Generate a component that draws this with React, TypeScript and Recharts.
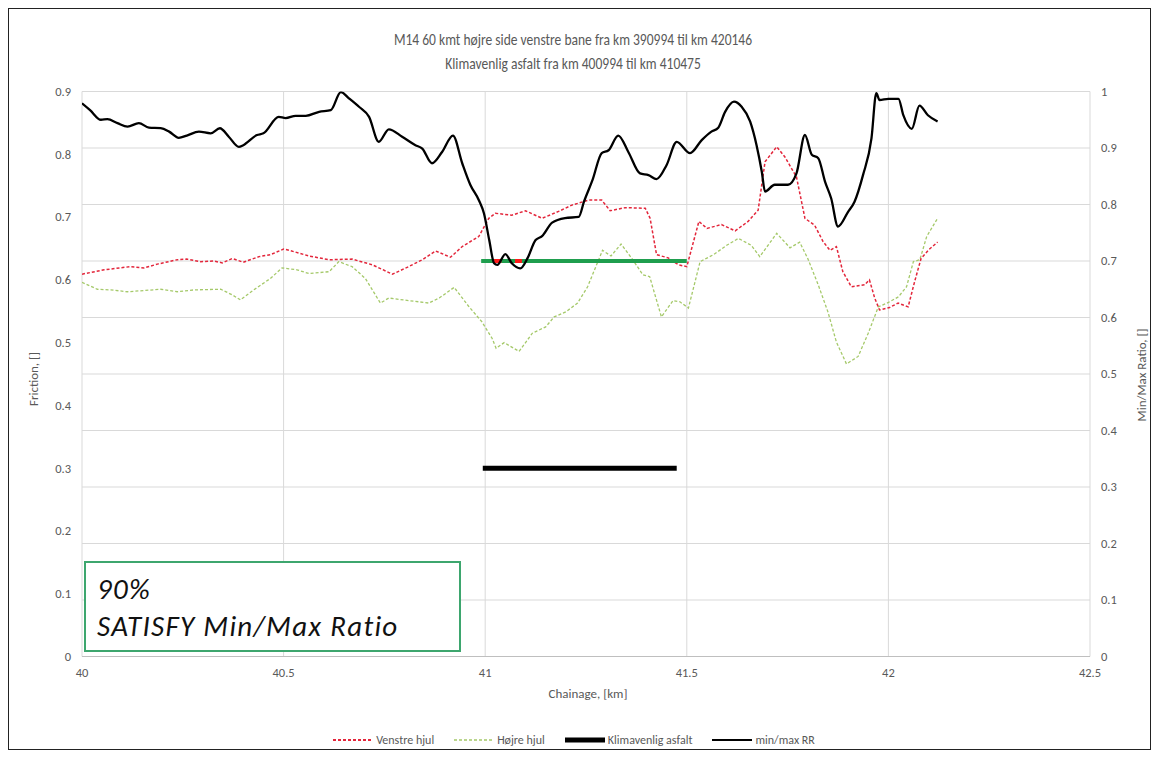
import React from 'react';
import { LineChart, Line, XAxis, YAxis, CartesianGrid } from 'recharts';

const FONT = "Carlito, 'Liberation Sans Narrow', 'Open Sans', sans-serif";
const TEXT_GRAY = '#595959';

const X_TICKS = [40, 40.5, 41, 41.5, 42, 42.5];
const FRICTION_TICKS = [0, 0.1, 0.2, 0.3, 0.4, 0.5, 0.6, 0.7, 0.8, 0.9];
const RATIO_TICKS = [0, 0.1, 0.2, 0.3, 0.4, 0.5, 0.6, 0.7, 0.8, 0.9, 1];

// Venstre hjul (left wheel friction)
const venstreKm = [
  40.0, 40.055, 40.12, 40.154, 40.187, 40.236, 40.26, 40.294, 40.327, 40.348, 40.373, 40.4,
  40.439, 40.467, 40.5, 40.514, 40.563, 40.613, 40.67, 40.72, 40.77, 40.81, 40.844, 40.877,
  40.914, 40.943, 40.984, 41.009, 41.025, 41.066, 41.1, 41.141, 41.182, 41.215, 41.256, 41.289,
  41.31, 41.347, 41.397, 41.409, 41.425, 41.454, 41.479, 41.5, 41.53, 41.55, 41.586, 41.62,
  41.652, 41.677, 41.694, 41.723, 41.743, 41.772, 41.793, 41.817, 41.838, 41.855, 41.871, 41.887,
  41.908, 41.941, 41.953, 41.966, 41.978, 42.003, 42.024, 42.049, 42.065, 42.081, 42.1, 42.122,
];
const venstreFriction = [
  0.609, 0.616, 0.621, 0.619, 0.625, 0.632, 0.633, 0.629, 0.63, 0.627, 0.634, 0.628,
  0.637, 0.64, 0.649, 0.647, 0.638, 0.632, 0.633, 0.624, 0.609, 0.621, 0.632, 0.646,
  0.636, 0.653, 0.669, 0.698, 0.706, 0.703, 0.71, 0.698, 0.709, 0.719, 0.727, 0.727,
  0.71, 0.715, 0.714, 0.698, 0.64, 0.635, 0.624, 0.621, 0.693, 0.682, 0.688, 0.678,
  0.693, 0.711, 0.788, 0.812, 0.796, 0.764, 0.698, 0.687, 0.661, 0.647, 0.653, 0.613,
  0.589, 0.592, 0.6, 0.571, 0.552, 0.556, 0.563, 0.557, 0.597, 0.634, 0.648, 0.66,
];

// Højre hjul (right wheel friction)
const hojreKm = [
  40.0, 40.038, 40.071, 40.113, 40.154, 40.195, 40.236, 40.278, 40.344, 40.373, 40.393, 40.426,
  40.467, 40.496, 40.533, 40.563, 40.613, 40.637, 40.67, 40.703, 40.74, 40.761, 40.81, 40.86,
  40.886, 40.923, 40.96, 40.992, 41.017, 41.027, 41.047, 41.084, 41.117, 41.15, 41.171, 41.2,
  41.229, 41.254, 41.291, 41.312, 41.337, 41.366, 41.391, 41.408, 41.437, 41.466, 41.483, 41.504,
  41.533, 41.566, 41.599, 41.628, 41.66, 41.681, 41.723, 41.756, 41.78, 41.8, 41.826, 41.85,
  41.871, 41.896, 41.925, 41.95, 41.975, 42.0, 42.025, 42.045, 42.062, 42.078, 42.095, 42.122,
];
const hojreFriction = [
  0.596, 0.585, 0.584, 0.581, 0.583, 0.585, 0.581, 0.584, 0.585, 0.576, 0.568, 0.584,
  0.602, 0.619, 0.616, 0.61, 0.613, 0.629, 0.621, 0.602, 0.563, 0.571, 0.567, 0.563,
  0.571, 0.588, 0.557, 0.533, 0.507, 0.491, 0.5, 0.486, 0.515, 0.525, 0.541, 0.549,
  0.563, 0.589, 0.647, 0.638, 0.657, 0.632, 0.608, 0.605, 0.541, 0.567, 0.565, 0.555,
  0.629, 0.64, 0.655, 0.666, 0.655, 0.637, 0.674, 0.651, 0.66, 0.634, 0.592, 0.549,
  0.501, 0.466, 0.478, 0.515, 0.557, 0.564, 0.573, 0.589, 0.629, 0.632, 0.669, 0.698,
];

// min/max RR (right axis)
const ratioKm = [
  40.0, 40.02, 40.047, 40.063, 40.088, 40.113, 40.141, 40.166, 40.195, 40.216, 40.24, 40.26,
  40.29, 40.319, 40.342, 40.364, 40.389, 40.4, 40.434, 40.45, 40.488, 40.505, 40.53, 40.555,
  40.588, 40.617, 40.642, 40.662, 40.687, 40.712, 40.736, 40.761, 40.794, 40.827, 40.844, 40.868,
  40.893, 40.92, 40.943, 40.963, 40.984, 40.997, 41.01, 41.022, 41.03, 41.05, 41.066, 41.087,
  41.105, 41.125, 41.141, 41.166, 41.198, 41.232, 41.245, 41.266, 41.289, 41.306, 41.33, 41.355,
  41.384, 41.405, 41.425, 41.45, 41.475, 41.508, 41.537, 41.561, 41.578, 41.595, 41.617, 41.636,
  41.657, 41.673, 41.686, 41.694, 41.718, 41.751, 41.772, 41.793, 41.81, 41.826, 41.843, 41.858,
  41.875, 41.9, 41.916, 41.937, 41.958, 41.97, 41.978, 42.0, 42.025, 42.037, 42.058, 42.077,
  42.098, 42.122,
];
const ratioValues = [
  0.979, 0.967, 0.95, 0.951, 0.944, 0.938, 0.944, 0.936, 0.935, 0.929, 0.918, 0.922,
  0.929, 0.926, 0.935, 0.92, 0.902, 0.905, 0.923, 0.926, 0.955, 0.953, 0.957, 0.957,
  0.964, 0.967, 0.999, 0.988, 0.973, 0.955, 0.911, 0.933, 0.92, 0.905, 0.899, 0.873,
  0.893, 0.922, 0.873, 0.835, 0.808, 0.784, 0.737, 0.696, 0.693, 0.712, 0.696, 0.687,
  0.705, 0.737, 0.744, 0.768, 0.776, 0.778, 0.805, 0.843, 0.891, 0.896, 0.922, 0.893,
  0.855, 0.852, 0.845, 0.87, 0.911, 0.891, 0.914, 0.929, 0.936, 0.964, 0.982, 0.973,
  0.947, 0.905, 0.858, 0.823, 0.835, 0.835, 0.855, 0.923, 0.888, 0.882, 0.84, 0.811,
  0.761, 0.787, 0.805, 0.852, 0.917, 0.997, 0.985, 0.987, 0.987, 0.958, 0.934, 0.975,
  0.958, 0.947,
];

// Klimavenlig asfalt section (left axis)
const klimaKm = [40.994, 41.475];
const klimaLevel = [0.3, 0.3];

// 0.7 min/max threshold over the section, and where RR drops under it
const thresholdKm = [40.99, 41.5];
const thresholdRatio = [0.7, 0.7];
const belowKm = [41.022, 41.04, 41.057, 41.074, 41.091];
const belowRatio = [0.7, 0.7, null, 0.7, 0.7];

const zip = (km: number[], vals: (number | null)[]) => km.map((k, i) => ({ km: k, v: vals[i] }));

const LEGEND = [
  { name: 'Venstre hjul', color: '#e3263b', width: 2, dash: '3 2' },
  { name: 'Højre hjul', color: '#a5c96a', width: 1.3, dash: '3 2' },
  { name: 'Klimavenlig asfalt', color: '#000', width: 5, dash: undefined },
  { name: 'min/max RR', color: '#000', width: 2, dash: undefined },
];

const tick = { fill: TEXT_GRAY, fontSize: 12.5, fontFamily: FONT };

export default function App() {
  return (
    <div
      style={{
        position: 'relative',
        width: 1141,
        height: 740,
        border: '1px solid #222',
        background: '#fff',
        fontFamily: FONT,
      }}
    >
      <div
        style={{
          position: 'absolute',
          left: 0,
          width: 1142,
          top: 18,
          textAlign: 'center',
          color: TEXT_GRAY,
          fontSize: 16.5,
          lineHeight: '24px',
          transform: 'scaleX(0.82)',
          transformOrigin: '564px 0',
        }}
      >
        <div style={{ marginLeft: -14 }}>M14 60 kmt højre side venstre bane fra km 390994 til km 420146</div>
        <div style={{ marginLeft: -14 }}>Klimavenlig asfalt fra km 400994 til km 410475</div>
      </div>

      <LineChart width={1141} height={740} margin={{ top: 82.5, right: 20, bottom: 62.5, left: 33 }}>
        <CartesianGrid yAxisId="ratio" stroke="#d9d9d9" strokeWidth={1} />
        <XAxis
          type="number"
          dataKey="km"
          domain={[40, 42.5]}
          ticks={X_TICKS}
          height={30}
          tick={tick}
          tickLine={false}
          tickMargin={6}
          axisLine={{ stroke: '#bfbfbf' }}
          allowDataOverflow
        />
        <YAxis
          yAxisId="friction"
          orientation="left"
          domain={[0, 0.9]}
          ticks={FRICTION_TICKS}
          width={40}
          tick={tick}
          tickLine={false}
          tickMargin={5}
          axisLine={false}
          allowDataOverflow
        />
        <YAxis
          yAxisId="ratio"
          orientation="right"
          domain={[0, 1]}
          ticks={RATIO_TICKS}
          width={40}
          tick={tick}
          tickLine={false}
          tickMargin={5}
          axisLine={false}
          allowDataOverflow
        />
        <Line
          yAxisId="friction"
          data={zip(hojreKm, hojreFriction)}
          dataKey="v"
          name="Højre hjul"
          stroke="#a5c96a"
          strokeWidth={1.3}
          strokeDasharray="3 2"
          dot={false}
          isAnimationActive={false}
        />
        <Line
          yAxisId="friction"
          data={zip(venstreKm, venstreFriction)}
          dataKey="v"
          name="Venstre hjul"
          stroke="#e3263b"
          strokeWidth={1.5}
          strokeDasharray="3 2"
          dot={false}
          isAnimationActive={false}
        />
        <Line
          yAxisId="friction"
          data={zip(klimaKm, klimaLevel)}
          dataKey="v"
          name="Klimavenlig asfalt"
          stroke="#000"
          strokeWidth={5}
          dot={false}
          isAnimationActive={false}
        />
        <Line
          yAxisId="ratio"
          data={zip(thresholdKm, thresholdRatio)}
          dataKey="v"
          stroke="#1f9e4e"
          strokeWidth={4}
          dot={false}
          isAnimationActive={false}
        />
        <Line
          yAxisId="ratio"
          data={zip(belowKm, belowRatio)}
          dataKey="v"
          stroke="#ff1a1a"
          strokeWidth={4}
          dot={false}
          isAnimationActive={false}
        />
        <Line
          yAxisId="ratio"
          type="monotone"
          data={zip(ratioKm, ratioValues)}
          dataKey="v"
          name="min/max RR"
          stroke="#000"
          strokeWidth={2.3}
          dot={false}
          isAnimationActive={false}
        />
      </LineChart>

      <div style={{ position: 'absolute', left: 24, top: 370, transform: 'translate(-50%, -50%) rotate(-90deg)', color: TEXT_GRAY, fontSize: 13, whiteSpace: 'nowrap' }}>
        Friction, []
      </div>
      <div style={{ position: 'absolute', left: 1132, top: 366, transform: 'translate(-50%, -50%) rotate(-90deg)', color: TEXT_GRAY, fontSize: 13, whiteSpace: 'nowrap' }}>
        Min/Max Ratio, []
      </div>
      <div style={{ position: 'absolute', left: 0, width: 1142, top: 677, textAlign: 'center', color: TEXT_GRAY, fontSize: 13, marginLeft: 8 }}>
        Chainage, [km]
      </div>

      <div
        style={{
          position: 'absolute',
          left: 75,
          top: 552,
          width: 362,
          height: 87,
          border: '2px solid #3da66e',
          background: '#fff',
          fontStyle: 'italic',
          fontSize: 29,
          lineHeight: '37px',
          color: '#111',
          paddingLeft: 11,
          boxSizing: 'content-box',
          letterSpacing: 1.3,
        }}
      >
        <div style={{ marginTop: 8 }}>90%</div>
        <div>SATISFY Min/Max Ratio</div>
      </div>

      <div style={{ position: 'absolute', top: 724, left: -6, width: 1142, display: 'flex', justifyContent: 'center', gap: 20, fontSize: 12, color: TEXT_GRAY }}>
        {LEGEND.map((it) => (
          <div key={it.name} style={{ display: 'flex', alignItems: 'center', gap: 3 }}>
            <svg width={40} height={8}>
              <line x1={0} y1={4} x2={40} y2={4} stroke={it.color} strokeWidth={it.width} strokeDasharray={it.dash} />
            </svg>
            <span>{it.name}</span>
          </div>
        ))}
      </div>
    </div>
  );
}
